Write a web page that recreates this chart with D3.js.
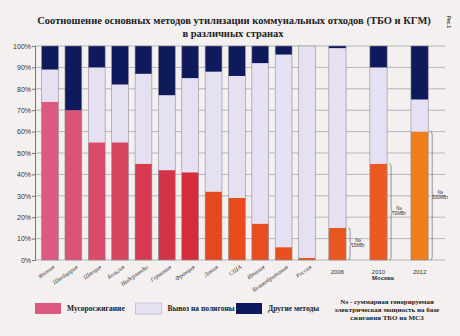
<!DOCTYPE html>
<html>
<head>
<meta charset="utf-8">
<script src="https://cdn.jsdelivr.net/npm/d3@7"></script>
<style>
  body { margin: 0; background: #f3f0ef; }
  svg { display: block; }
  .title { font-family: "Liberation Serif", serif; font-weight: bold; font-size: 10.5px; fill: #222; }
  .tick text { font-family: "Liberation Sans", Arial, sans-serif; font-size: 7px; fill: #333; }
  .xlab { font-family: "Liberation Serif", serif; font-style: italic; font-size: 6px; fill: #333; }
  .yearlab { font-family: "Liberation Sans", sans-serif; font-size: 6px; fill: #333; }
  .legtext { font-family: "Liberation Serif", serif; font-weight: bold; font-size: 7.5px; fill: #222; }
  .note { font-family: "Liberation Serif", serif; font-weight: bold; font-size: 7px; fill: #222; }
  .power { font-family: "Liberation Sans", sans-serif; font-size: 4.5px; fill: #333; }
</style>
</head>
<body>
<script>
var width = 460, height = 336;

// countries
var countries = ["Япония","Швейцария","Швеция","Бельгия","Нидерланды","Германия","Франция","Дания","США","Италия","Великобритания","Россия"];
var countryIncin = [74, 70, 55, 55, 45, 42, 41, 32, 29, 17, 6, 1];
var countryLandfill = [15, 0, 35, 27, 42, 35, 44, 56, 57, 75, 90, 99];
var countryOther = [11, 30, 10, 18, 13, 23, 15, 12, 14, 8, 4, 0];

// Moscow by year
var years = ["2006","2010","2012"];
var moscowIncin = [15, 45, 60];
var moscowLandfill = [84, 45, 15];
var moscowOther = [1, 10, 25];
var moscowPower = ["15МВт","70МВт","100МВт"];

var yTicks = [0,10,20,30,40,50,60,70,80,90,100];
var legendLabels = ["Мусоросжигание","Вывоз на полигоны","Другие методы"];
var noteLines = ["Nэ - суммарная генерируемая","электрическая мощность на базе","сжигания ТБО на МСЗ"];

var keys = ["incin","landfill","other"];

var rows = [];
countries.forEach(function(c, i){
  rows.push({name: c, group: "country", incin: countryIncin[i], landfill: countryLandfill[i], other: countryOther[i]});
});
years.forEach(function(c, i){
  rows.push({name: c, group: "moscow", incin: moscowIncin[i], landfill: moscowLandfill[i], other: moscowOther[i], power: moscowPower[i]});
});

var stacked = d3.stack().keys(keys)(rows);

var y = d3.scaleLinear().domain([0, 100]).range([260, 46]);

var xCountry = d3.scaleBand()
  .domain(countries)
  .range([36, 321])
  .paddingInner(0.28)
  .paddingOuter(0.24);

var xMoscow = d3.scaleBand()
  .domain(years)
  .range([321, 436])
  .paddingInner(0.58)
  .paddingOuter(0.19);

function xLeft(d) {
  return d.group == "country" ? xCountry(d.name) : xMoscow(d.name);
}
function bw(d) {
  return d.group == "country" ? xCountry.bandwidth() : xMoscow.bandwidth();
}

var incinColor = d3.scaleLinear()
  .domain([0, 6, 7, 13, 14])
  .range(["#dc5a80", "#d42c3a", "#e6481e", "#ea5a20", "#f07e1a"]);
var landfillColor = "#e6e0f3";
var otherColor = "#0e1a5c";

var svg = d3.select("body").append("svg")
  .attr("width", width)
  .attr("height", height);

svg.append("rect").attr("width", width).attr("height", height).attr("fill", "#f3f0ef");

// title
svg.append("text").attr("class", "title")
  .attr("x", 234).attr("y", 24)
  .attr("text-anchor", "middle")
  .text("Соотношение основных методов утилизации коммунальных отходов (ТБО и КГМ)");
svg.append("text").attr("class", "title")
  .attr("x", 233).attr("y", 37)
  .attr("text-anchor", "middle")
  .text("в различных странах");

svg.append("text")
  .attr("transform", "translate(447,16) rotate(90)")
  .style("font-family", "Liberation Sans, sans-serif")
  .style("font-size", "4.5px")
  .style("font-weight", "bold")
  .style("fill", "#444")
  .text("Рис.1");

// grid
svg.append("g").selectAll("line")
  .data(yTicks)
  .enter().append("line")
  .attr("x1", 35).attr("x2", 445)
  .attr("y1", function(d){ return y(d); })
  .attr("y2", function(d){ return y(d); })
  .attr("stroke", "#a8a6aa")
  .attr("stroke-width", 0.8);

// y axis
var yAxis = d3.axisLeft(y)
  .tickValues(yTicks)
  .tickSize(3)
  .tickFormat(function(d){ return d + "%"; });

var yg = svg.append("g")
  .attr("transform", "translate(35,0)")
  .call(yAxis);
yg.select(".domain").attr("stroke", "#777");
yg.selectAll(".tick line").attr("stroke", "#777");
yg.selectAll(".tick text").attr("x", -4);

// bars
var layers = svg.append("g").selectAll("g")
  .data(stacked)
  .enter().append("g");

layers.selectAll("rect")
  .data(function(s){ return s.map(function(p, i){ return {key: s.key, i: i, p: p, row: rows[i]}; }); })
  .enter().append("rect")
  .filter(function(d){ return d.p[1] - d.p[0] > 0; })
  .attr("x", function(d){ return xLeft(d.row); })
  .attr("width", function(d){ return bw(d.row); })
  .attr("y", function(d){ return y(d.p[1]); })
  .attr("height", function(d){ return y(d.p[0]) - y(d.p[1]); })
  .attr("fill", function(d){
    if (d.key == "incin") return incinColor(d.i);
    if (d.key == "landfill") return landfillColor;
    return otherColor;
  });

// bar outlines
svg.append("g").selectAll("rect")
  .data(rows)
  .enter().append("rect")
  .attr("x", function(d){ return xLeft(d); })
  .attr("width", function(d){ return bw(d); })
  .attr("y", y(100))
  .attr("height", y(0) - y(100))
  .attr("fill", "none")
  .attr("stroke", "#8e8c96")
  .attr("stroke-width", 0.6);

// country labels
svg.append("g").selectAll("text")
  .data(countries)
  .enter().append("text")
  .attr("class", "xlab")
  .attr("text-anchor", "end")
  .attr("transform", function(d){
    return "translate(" + (xCountry(d) + xCountry.bandwidth() / 2 + 5) + ",268) rotate(-35)";
  })
  .text(function(d){ return d; });

// year labels
svg.append("g").selectAll("text")
  .data(years)
  .enter().append("text")
  .attr("class", "yearlab")
  .attr("text-anchor", "middle")
  .attr("x", function(d){ return xMoscow(d) + xMoscow.bandwidth() / 2; })
  .attr("y", 274)
  .text(function(d){ return d; });

svg.append("text").attr("class", "yearlab")
  .attr("text-anchor", "middle")
  .attr("x", 383).attr("y", 280)
  .style("font-weight", "bold")
  .text("Москва");

// braces for power
var moscowRows = rows.filter(function(d){ return d.group == "moscow"; });
var braces = svg.append("g").selectAll("g")
  .data(moscowRows)
  .enter().append("g");

braces.append("path")
  .attr("d", function(d){
    var x0 = xLeft(d) + bw(d) + 2;
    var y0 = y(d.incin), y1 = y(0), ym = (y0 + y1) / 2;
    return "M" + x0 + "," + y0 + " q2,0 2,3 L" + (x0 + 2) + "," + (ym - 2) + " q0,2 2,2 q-2,0 -2,2 L" + (x0 + 2) + "," + (y1 - 3) + " q0,3 -2,3";
  })
  .attr("fill", "none")
  .attr("stroke", "#555")
  .attr("stroke-width", 0.6);

braces.append("text").attr("class", "power")
  .attr("text-anchor", "middle")
  .attr("x", function(d){ return xLeft(d) + bw(d) + 12; })
  .attr("y", function(d){ return (y(d.incin) + y(0)) / 2 - 2; })
  .text("Nэ");
braces.append("text").attr("class", "power")
  .attr("text-anchor", "middle")
  .attr("x", function(d){ return xLeft(d) + bw(d) + 12; })
  .attr("y", function(d){ return (y(d.incin) + y(0)) / 2 + 3.5; })
  .text(function(d){ return d.power; });

// legend
var legendColors = [incinColor(0), landfillColor, otherColor];
var legendX = d3.scalePoint().domain(legendLabels).range([35, 236]);

var leg = svg.append("g").selectAll("g")
  .data(legendLabels)
  .enter().append("g")
  .attr("transform", function(d){ return "translate(" + legendX(d) + ",303)"; });
leg.append("rect")
  .attr("width", 26).attr("height", 11)
  .attr("fill", function(d, i){ return legendColors[i]; })
  .attr("stroke", function(d, i){ return i == 1 ? "#c8c0de" : "none"; });
leg.append("text").attr("class", "legtext")
  .attr("x", 32).attr("y", 8)
  .text(function(d){ return d; });

svg.append("g").selectAll("text")
  .data(noteLines)
  .enter().append("text")
  .attr("class", "note")
  .attr("text-anchor", "middle")
  .attr("x", 387)
  .attr("y", function(d, i){ return 304 + i * 8; })
  .text(function(d){ return d; });
</script>
</body>
</html>
